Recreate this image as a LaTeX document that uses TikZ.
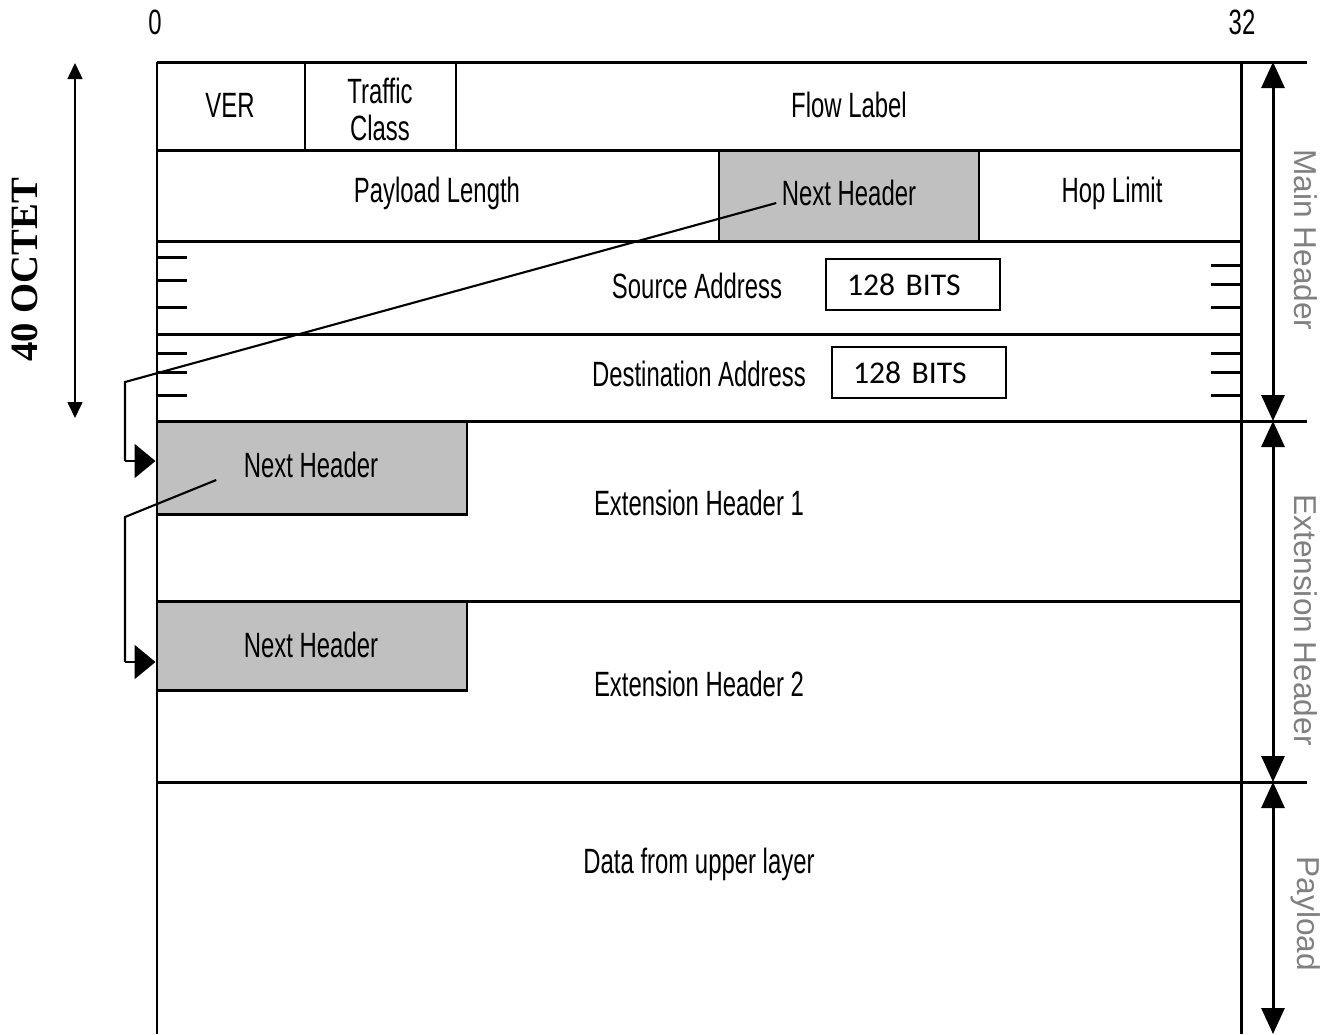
\documentclass[tikz,border=0pt]{standalone}
\usepackage{fontspec}
\setmainfont{Liberation Sans}[FakeStretch=0.68]
\newfontfamily\sidefont{Liberation Sans}
\newfontfamily\bitsfont{Carlito}
\newfontfamily\octetfont{Liberation Serif}
\usepackage{tikz}
\usetikzlibrary{calc,arrows.meta}
\definecolor{nhgray}{RGB}{192,192,192}
\tikzstyle{every picture}=[>=latex]
\tikzstyle{frame}=[line width=0.85pt]
\tikzstyle{lbl}=[inner sep=0pt,font=\fontsize{10}{10.5}\selectfont]
\tikzstyle{nhbox}=[draw,fill=nhgray,line width=0.85pt,inner sep=0pt]
\tikzstyle{bitsbox}=[draw,line width=0.6pt,minimum height=5.1mm,text width=13.2mm,
  inner xsep=2.1mm,align=left,font=\bitsfont\fontsize{9}{11}\selectfont]
\tikzstyle{side}=[inner sep=0pt,rotate=-90,text=gray,font=\sidefont\fontsize{9}{11}\selectfont]
\tikzstyle{span}=[line width=0.85pt,{Triangle[length=2.6mm,width=2.3mm]}-{Triangle[length=2.6mm,width=2.3mm]}]
\tikzstyle{link}=[line width=0.6pt]

\begin{document}
\begin{tikzpicture}[x=0.1mm,y=-0.1mm]
    \useasboundingbox (0,0) rectangle (1323,1034);

    % Next header fields (gray)
    \node[nhbox,minimum width=26mm,minimum height=9.1mm] (nh0) at (849,195.5) {};
    \node[nhbox,minimum width=31mm,minimum height=9.3mm] (nh1) at (312,467.5) {};
    \node[nhbox,minimum width=31mm,minimum height=8.9mm] (nh2) at (312,645.5) {};

    % Frame of the packet
    \draw[frame] (157,62) -- (1307,62);
    \draw[frame] (157,150) -- (1241,150);
    \draw[frame] (157,241) -- (1241,241);
    \draw[frame] (157,334) -- (1241,334);
    \draw[frame] (157,421) -- (1307,421);
    \draw[frame] (157,601) -- (1241,601);
    \draw[frame] (157,782) -- (1307,782);
    \draw[frame] (157,62) -- (157,1034);
    \draw[frame] (1241,62) -- (1241,1034);
    \draw[frame] (305,62) -- (305,150);
    \draw[frame] (456,62) -- (456,150);

    % Address ticks
    \foreach \y in {257,280,307,353,372,395}
        \draw[frame] (157,\y) -- (187,\y);
    \foreach \y in {265,284,307,353,372,395}
        \draw[frame] (1211,\y) -- (1241,\y);

    % Bit positions
    \node[lbl] (b0) at (155,22) {0};
    \node[lbl] (b32) at (1242,22) {32};

    % Field labels
    \node[lbl] (ver) at (230,105) {VER};
    \node[lbl,align=center] (tc) at (380,109) {Traffic\\Class};
    \node[lbl] (flow) at (849,105) {Flow Label};
    \node[lbl] (plen) at (437,193) {Payload Length};
    \node[lbl] (nh0t) at (849,193) {Next Header};
    \node[lbl] (hop) at (1112,193) {Hop Limit};
    \node[lbl] (src) at (697,286) {Source Address};
    \node[bitsbox] (srcb) at (913,284.5) {128 BITS};
    \node[lbl] (dst) at (699,374) {Destination Address};
    \node[bitsbox] (dstb) at (919,372.5) {128 BITS};
    \node[lbl] (nh1t) at (311,465) {Next Header};
    \node[lbl] (ext1) at (699,503) {Extension Header 1};
    \node[lbl] (nh2t) at (311,645) {Next Header};
    \node[lbl] (ext2) at (699,684) {Extension Header 2};
    \node[lbl] (data) at (699,864) {Data from upper layer};

    % 40 octet span
    \node[inner sep=0pt,rotate=90,font=\octetfont\bfseries\fontsize{11}{13}\selectfont] (oct) at (25,270) {40 OCTET};
    \coordinate (o1) at (75,63);
    \coordinate (o2) at (75,418);
    \draw[line width=0.45pt,{Triangle[length=1.6mm,width=1.5mm]}-{Triangle[length=1.6mm,width=1.5mm]}] (o1) -- (o2);

    % Spans on the right
    \coordinate (m1) at (1273,62);
    \coordinate (m2) at (1273,421);
    \coordinate (m3) at (1273,782);
    \coordinate (m4) at (1273,1034);
    \draw[span] (m1) -- (m2);
    \draw[span] (m2) -- (m3);
    \draw[span] (m3) -- (m4);
    \node[side] (mh) at (1306,240) {Main Header};
    \node[side] (eh) at (1306,620) {Extension Header};
    \node[side] (pl) at (1306,914) {Payload};

    % Next header chain
    \coordinate (k1) at (125,382);
    \coordinate (k2) at (125,517);
    \draw[link] ($(nh0t.west)+(-5,10)$) -- (k1) -- (125,461)
        edge[-{Triangle[length=2.1mm,width=3.4mm]}] (nh1.west |- 0,461);
    \draw[link] ($(nh1t.west)+(-27,15)$) -- (k2) -- (125,662)
        edge[-{Triangle[length=2.1mm,width=3.4mm]}] (nh2.west |- 0,662);

\end{tikzpicture}
\end{document}
